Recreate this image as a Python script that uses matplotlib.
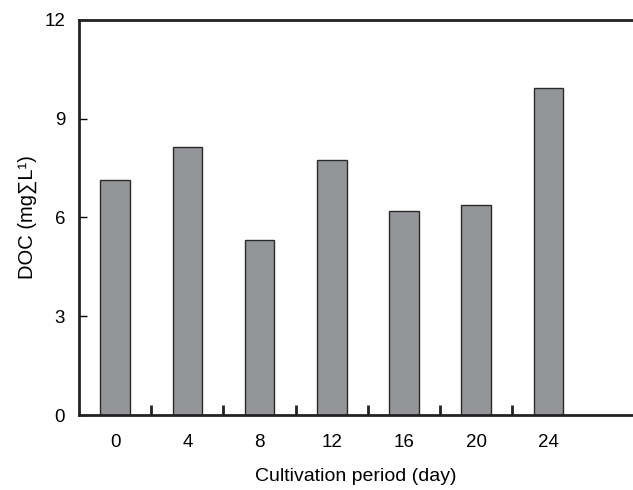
import matplotlib
matplotlib.use("Agg")
import matplotlib.pyplot as plt
import numpy as np

days = ["0", "4", "8", "12", "16", "20", "24"]
doc = [7.15, 8.15, 5.32, 7.76, 6.2, 6.38, 9.92]

plt.rcParams["font.family"] = ["Liberation Sans", "DejaVu Sans"]

fig = plt.figure(figsize=(6.33, 4.9), dpi=100)
ax = fig.add_axes([79 / 633, 75 / 490, 1 - 79 / 633, 395 / 490])

x = np.arange(len(days))
ax.bar(x, doc, width=0.41, color="#939598", edgecolor="#2b2b2b", linewidth=1.0)

ax.set_xlim(-0.5, 7.17)
ax.set_ylim(0, 12)
ax.set_yticks([0, 3, 6, 9, 12])
ax.set_xticks(x)
ax.set_xticklabels(days)
ax.set_xticks(x[:-1] + 0.5, minor=True)
ax.tick_params(axis="x", which="major", length=0, pad=14, labelsize=13.5)
ax.tick_params(axis="x", which="minor", direction="in", length=7, width=2, color="#222222")
ax.tick_params(axis="y", direction="in", length=6, width=1, labelsize=13.5, pad=10)

for side in ["left", "bottom", "top"]:
    ax.spines[side].set_linewidth(2)
    ax.spines[side].set_color("#222222")
ax.spines["right"].set_visible(False)

ax.set_xlabel("Cultivation period (day)", fontsize=14, labelpad=12)
ax.set_ylabel("DOC (mg∑L¹)", fontsize=14.5, labelpad=5)

fig.savefig("out.png", dpi=100)
